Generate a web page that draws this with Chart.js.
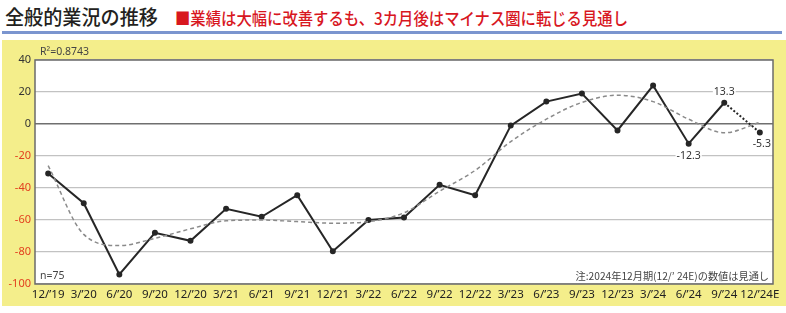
<!DOCTYPE html>
<html><head><meta charset="utf-8">
<script src="https://cdn.jsdelivr.net/npm/chart.js@4"></script>
<style>
html,body{margin:0;padding:0;background:#fff;width:786px;height:313px;overflow:hidden;font-family:"Noto Sans CJK JP","Noto Sans",sans-serif;}
#title{position:absolute;left:5px;top:2px;font-size:20px;color:#231f20;white-space:nowrap;transform-origin:0 0;font-weight:500;}
#sub{position:absolute;left:175px;top:5px;font-size:17px;color:#d8171f;white-space:nowrap;transform-origin:0 0;font-weight:500;}
#rule{position:absolute;left:2px;top:31px;width:780px;height:3px;background:#7b95cf;}
#panel{position:absolute;left:2px;top:40px;width:784px;height:266px;background:#f4ee8b;}
#wrap{position:absolute;left:0;top:40px;width:786px;height:266px;}
</style></head>
<body>
<div id="title">全般的業況の推移</div>
<div id="sub">■業績は大幅に改善するも、3カ月後はマイナス圏に転じる見通し</div>
<div id="rule"></div>
<div id="panel"></div>
<div id="wrap"><canvas id="c" width="786" height="266"></canvas></div>
<script>
const categories = ["12/’19","3/’20","6/’20","9/’20","12/’20","3/’21","6/’21","9/’21","12/’21","3/’22","6/’22","9/’22","12/’22","3/’23","6/’23","9/’23","12/’23","3/’24","6/’24","9/’24","12/’24E"];
const values = [-31, -49.5, -94, -68, -73, -53, -58, -44.5, -79.5, -60, -58.5, -38, -44.5, -1, 14, 19, -4, 24, -12.3, 13.3, -5.3];
const trend = [-26, -69, -76, -71.5, -65.5, -60.5, -60, -61, -62, -61, -55.5, -42, -29, -11, 3, 13.5, 18, 14, 3, -5.5, 1];
const yTicks = [40, 20, 0, -20, -40, -60, -80, -100];
const labelled = {18: {text: "-12.3", pos: "below"}, 19: {text: "13.3", pos: "above"}, 20: {text: "-5.3", pos: "below"}};
const rSquared = "R²=0.8743";
const sampleNote = "n=75";
const footNote = "注:2024年12月期(12/’ 24E)の数値は見通し";

function fit(id, w){const el=document.getElementById(id);const r=el.getBoundingClientRect();el.style.transform='scaleX('+(w/r.width)+')';}
fit('title',153); fit('sub',453);

const FONT = "'Noto Sans','Noto Sans CJK JP',sans-serif";
const lastIdx = values.length - 1;

const deco = {
  id: 'deco',
  beforeDraw(chart){
    const {ctx, chartArea:a} = chart;
    ctx.save();
    ctx.fillStyle = '#fff';
    ctx.fillRect(a.left, a.top, a.right-a.left, a.bottom-a.top);
    ctx.restore();
  },
  beforeDatasetsDraw(chart){
    const {ctx, chartArea:a} = chart;
    ctx.save();
    ctx.strokeStyle = '#6b6b6b';
    ctx.lineWidth = 1.5;
    ctx.strokeRect(a.left, a.top, a.right-a.left, a.bottom-a.top);
    ctx.fillStyle = '#444';
    ctx.font = "10.5px " + FONT;
    ctx.textBaseline = 'middle';
    ctx.textAlign = 'left';
    ctx.fillText(rSquared, a.left+5, a.top-8);
    ctx.fillText(sampleNote, a.left+5, a.bottom-8);
    ctx.textAlign = 'right';
    ctx.font = "10.2px 'Noto Sans CJK JP',sans-serif";
    ctx.fillText(footNote, a.right-4, a.bottom-8);
    ctx.restore();
  },
  afterDatasetsDraw(chart){
    const {ctx} = chart;
    const meta = chart.getDatasetMeta(1);
    ctx.save();
    ctx.font = "10.5px " + FONT;
    ctx.textAlign = 'center';
    ctx.textBaseline = 'middle';
    for (const k in labelled){
      const p = meta.data[k];
      const L = labelled[k];
      const y = L.pos === 'above' ? p.y - 11 : p.y + 12;
      const w = ctx.measureText(L.text).width;
      ctx.fillStyle = '#fff';
      ctx.fillRect(p.x - w/2 - 1, y - 6, w + 2, 12);
      ctx.fillStyle = '#333';
      ctx.fillText(L.text, p.x + (k==20?2:0), y);
    }
    ctx.restore();
  }
};

new Chart(document.getElementById('c'), {
  type: 'line',
  data: {
    datasets: [
      {
        label: 'trend',
        data: trend.map((v,i)=>({x:i,y:v})),
        borderColor: '#8a8a8a',
        borderWidth: 1.5,
        borderDash: [4,3],
        pointRadius: 0,
        cubicInterpolationMode: 'monotone',
        fill: false
      },
      {
        label: 'DI',
        data: values.map((v,i)=>({x:i,y:v})),
        borderColor: '#262626',
        backgroundColor: '#262626',
        borderWidth: 2,
        pointRadius: 2,
        pointHoverRadius: 2,
        tension: 0,
        fill: false,
        segment: {
          borderDash: c => c.p1DataIndex === lastIdx ? [2,2] : undefined
        }
      }
    ]
  },
  options: {
    responsive: false,
    animation: false,
    events: [],
    layout: {padding: {left: 0, right: 13, top: 20, bottom: 0}},
    plugins: {legend: {display: false}, tooltip: {enabled: false}},
    scales: {
      x: {
        type: 'linear',
        min: -0.37,
        max: 20.37,
        afterBuildTicks: s => { s.ticks = categories.map((_, i) => ({value: i})); },
        afterFit: s => { s.height = 22; },
        grid: {display: false, drawTicks: false},
        border: {display: false},
        ticks: {
          autoSkip: false,
          maxRotation: 0,
          padding: 4,
          color: '#222',
          font: {family: FONT, size: 11.5},
          callback: v => categories[v]
        }
      },
      y: {
        min: -100,
        max: 40,
        afterBuildTicks: s => { s.ticks = yTicks.map(v => ({value: v})); },
        afterFit: s => { s.width = 35; },
        grid: {
          drawTicks: false,
          color: c => c.tick.value === 0 ? '#6f6f6f' : '#c2c2c2',
          lineWidth: c => c.tick.value === 0 ? 1.6 : 1.2
        },
        border: {display: false},
        ticks: {
          padding: 4,
          color: c => c.tick.value < 0 ? '#e2401f' : '#333',
          font: {family: FONT, size: 11}
        }
      }
    }
  },
  plugins: [deco]
});
</script>
</body></html>
